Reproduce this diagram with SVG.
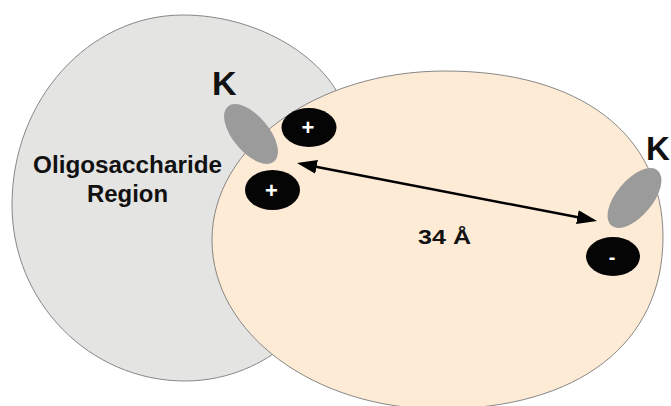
<svg xmlns="http://www.w3.org/2000/svg" width="671" height="406" viewBox="0 0 671 406">
  <style>
    .region { stroke: #7a7a7a; stroke-width: 0.9; }
    .grey { fill: #e4e4e2; }
    .beige { fill: #fdebd5; }
    .site { fill: #9b9b9b; }
    .charge { fill: #050505; }
    .lbl { font-family: "Liberation Sans", Arial, sans-serif; font-weight: bold; fill: #111; }
    .sign { font-family: "Liberation Sans", Arial, sans-serif; font-weight: bold; fill: #ffffff; text-anchor: middle; }
  </style>
  <defs>
    <marker id="ah" viewBox="0 0 20 14" markerWidth="20" markerHeight="14" refX="10" refY="7" markerUnits="userSpaceOnUse" orient="auto-start-reverse">
      <path d="M0,0 L20,7 L0,14 z" fill="#000"/>
    </marker>
  </defs>
  <rect width="671" height="406" fill="#ffffff"/>

  <g id="oligosaccharide-region">
    <path class="region grey" d="M183,15 C88.6,15 12,100 12,205 C12,302 89.5,381 185,381 C230,381 265,362 285,345 C330,305 370,200 345,110 C330,60 260,15 183,15 Z"/>
    <text class="lbl" x="127.5" y="173" font-size="23" text-anchor="middle" textLength="189" lengthAdjust="spacingAndGlyphs">Oligosaccharide</text>
    <text class="lbl" x="127.5" y="202" font-size="23" text-anchor="middle" textLength="81" lengthAdjust="spacingAndGlyphs">Region</text>
  </g>

  <g id="protein-body">
    <path class="region beige" d="M212,240 C212,146.7 316.3,71 445,71 C580,71 663,134 663,237 C663,343.6 578,409 440,409 C314,409 212,333 212,240 Z"/>
  </g>

  <g id="site-left">
    <ellipse class="site" cx="251" cy="134" rx="18" ry="36" transform="rotate(-40 251 134)"/>
    <text class="lbl" x="212" y="95" font-size="34">K</text>
  </g>

  <g id="site-right">
    <ellipse class="site" cx="634.5" cy="198" rx="18" ry="36" transform="rotate(40 634.5 198)"/>
    <text class="lbl" x="646" y="160" font-size="33">K</text>
  </g>

  <g id="charge-plus-top">
    <ellipse class="charge" cx="309" cy="127.5" rx="27.5" ry="19.5"/>
    <text class="sign" x="308" y="135" font-size="22">+</text>
  </g>

  <g id="charge-plus-bottom">
    <ellipse class="charge" cx="272.5" cy="190" rx="27.5" ry="20"/>
    <text class="sign" x="271.5" y="197.5" font-size="22">+</text>
  </g>

  <g id="charge-minus">
    <ellipse class="charge" cx="613" cy="256.5" rx="27" ry="19.5"/>
    <text class="sign" x="612" y="263.5" font-size="20">-</text>
  </g>

  <g id="connectors">
    <line x1="306.8" y1="164.9" x2="587.2" y2="219.1" stroke="#000" stroke-width="2.5" marker-start="url(#ah)" marker-end="url(#ah)"/>
    <text class="lbl" x="418" y="244" font-size="21" textLength="53" lengthAdjust="spacingAndGlyphs">34 Å</text>
  </g>
</svg>
